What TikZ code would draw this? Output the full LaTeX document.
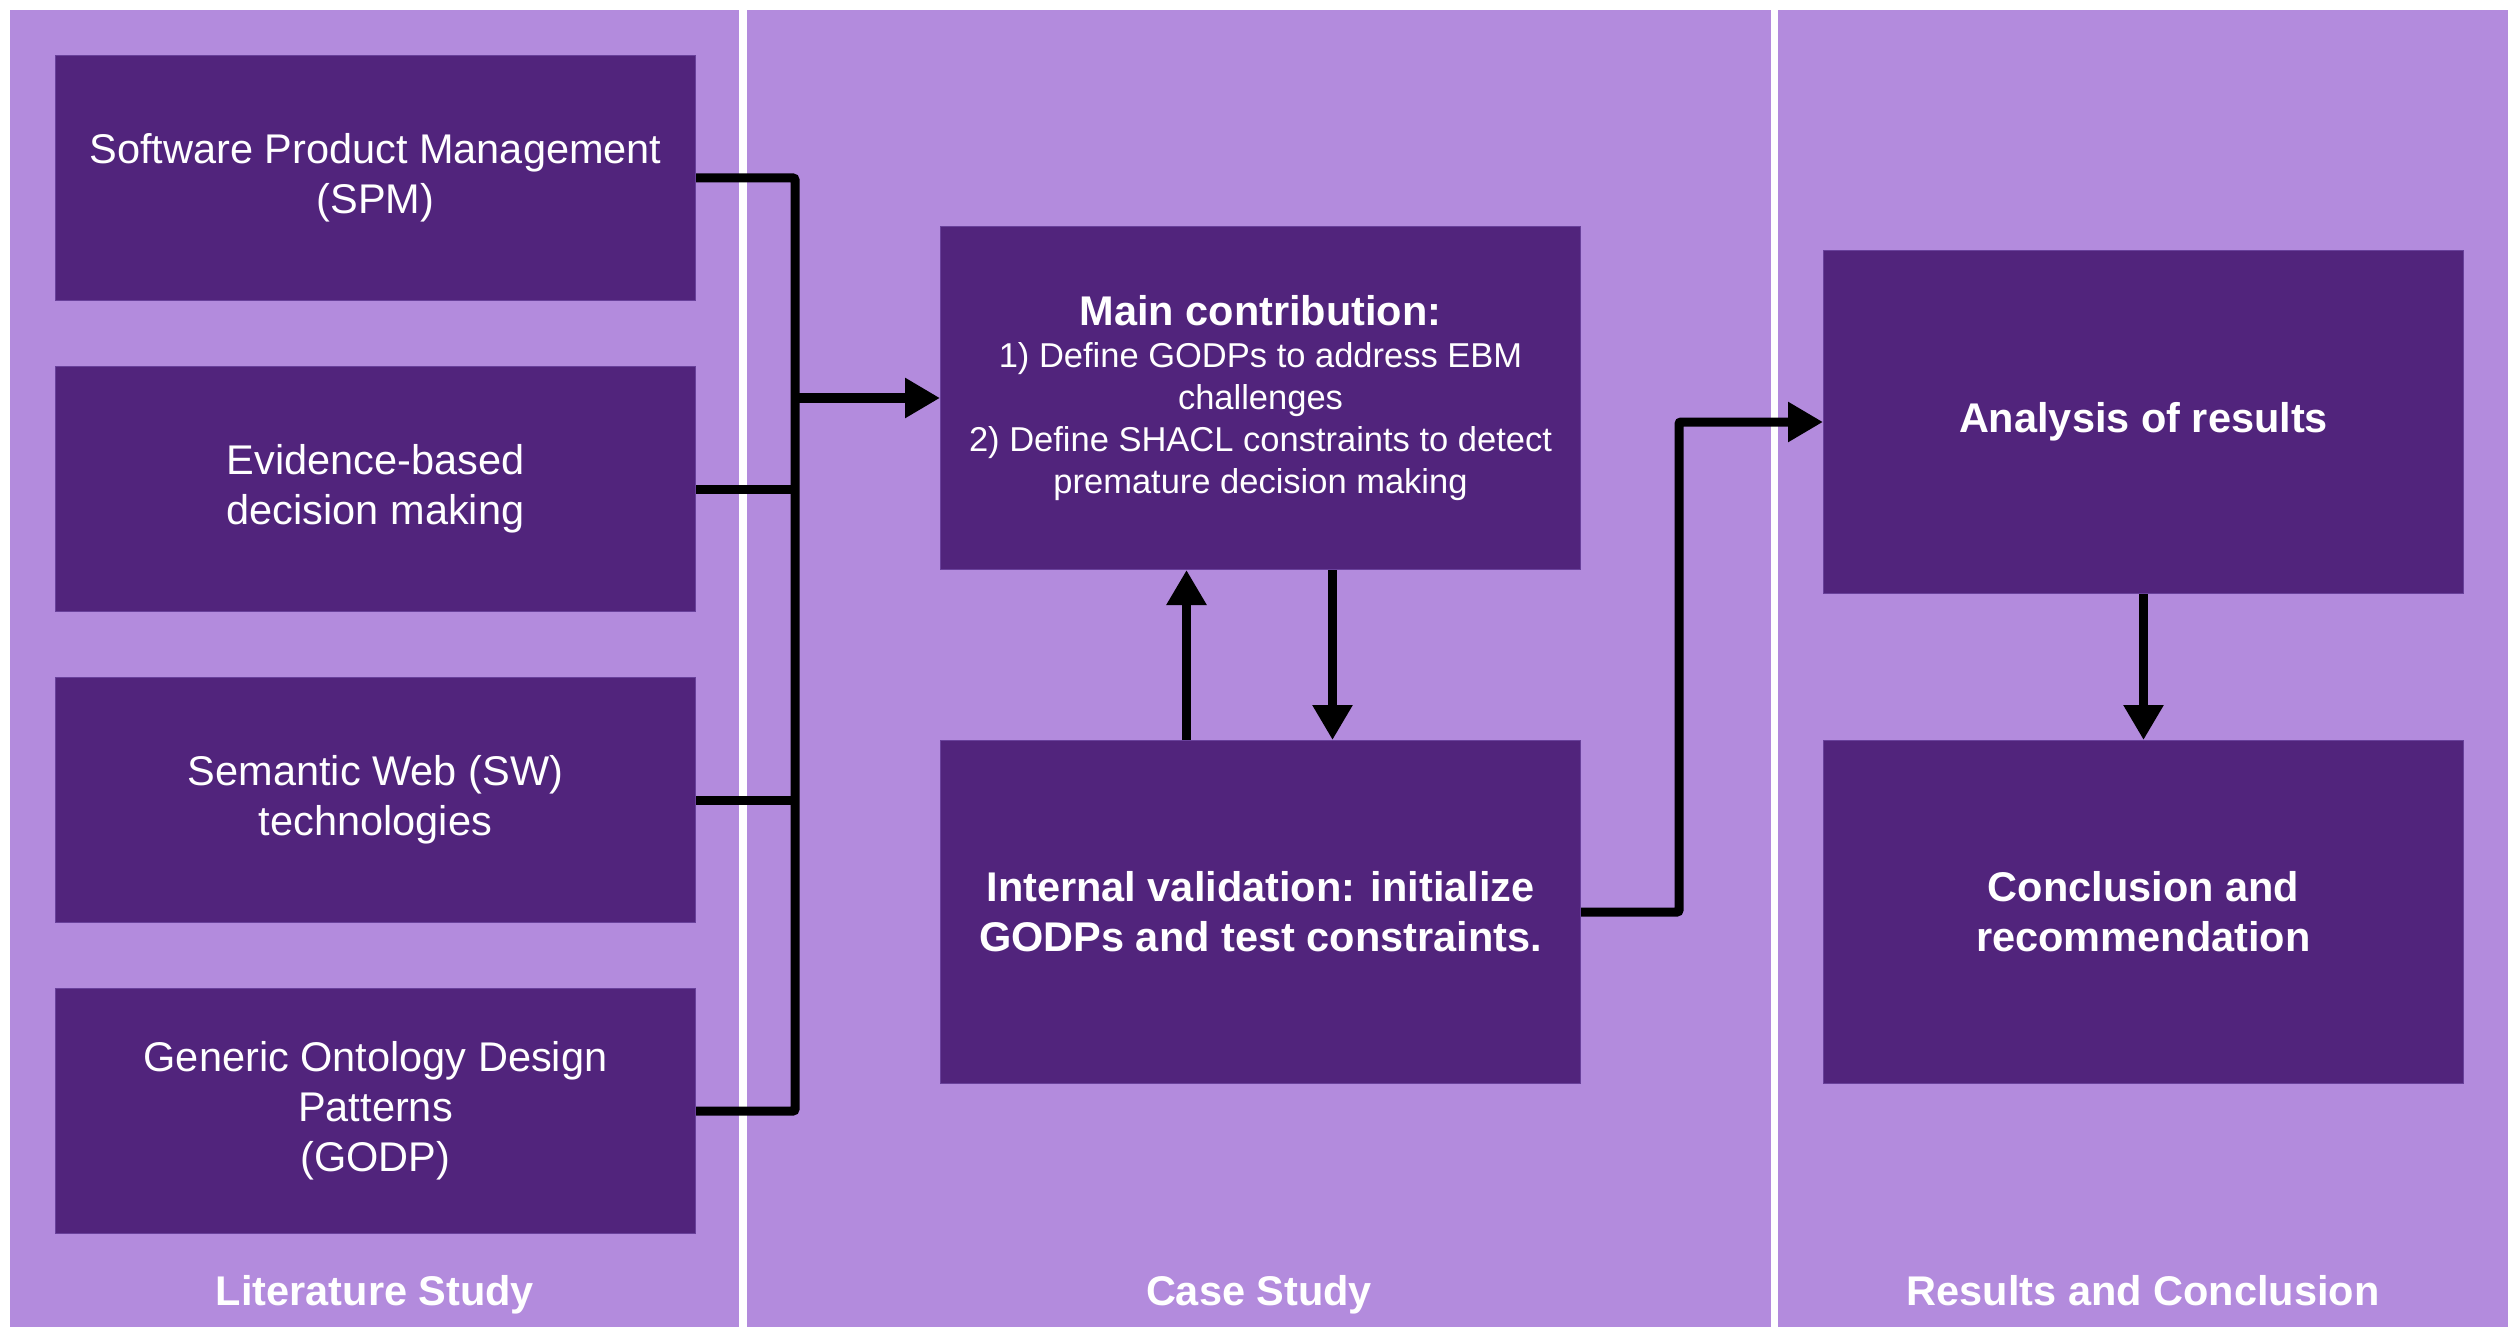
\documentclass[tikz,border=0pt]{standalone}
\usepackage{fontspec}
\setmainfont{Liberation Sans}
\usetikzlibrary{arrows.meta}
\definecolor{panelc}{RGB}{179,139,221}
\definecolor{boxc}{RGB}{81,36,124}
\definecolor{boxedge}{RGB}{105,65,155}
\begin{document}
\begin{tikzpicture}[x=1pt,y=-1pt,
  box/.style={fill=boxc, draw=boxedge, line width=1pt, text=white, align=center,
    inner sep=0pt, anchor=north west, minimum width=640pt},
  lbox/.style={box, minimum height=245pt, font=\fontsize{41.5}{50}\selectfont},
  mbox/.style={box, minimum height=343pt, font=\fontsize{41.5}{50}\selectfont\bfseries},
  conn/.style={line width=9pt, rounded corners=2pt},
  arr/.style={conn, -{Triangle[length=35pt,width=38pt]}},
  plabel/.style={text=white, font=\fontsize{41.5}{50}\selectfont\bfseries, anchor=base, inner sep=0pt}]
\useasboundingbox (0,0) rectangle (2519,1337);
\fill[white] (0,0) rectangle (2519,1337);
% panels
\fill[panelc] (10,10) rectangle (739,1327);
\fill[panelc] (747,10) rectangle (1771,1327);
\fill[panelc] (1778,10) rectangle (2508,1327);
\node[plabel] (lit) at (375,1305) {Literature Study};
\node[plabel] (case) at (1259,1305) {Case Study};
\node[plabel] (res) at (2143,1305) {Results and Conclusion};
% left boxes
\node[lbox] (spm) at (55,55) {Software Product Management\\(SPM)};
\node[lbox] (ebm) at (55,366) {Evidence-based\\decision making};
\node[lbox] (sw) at (55,677) {Semantic Web (SW)\\technologies};
\node[lbox] (godp) at (55,988) {Generic Ontology Design\\Patterns\\(GODP)};
% middle boxes
\node[box, minimum height=343pt, font=\fontsize{34.5}{42}\selectfont] (main) at (940,226)
  {{\fontsize{41.5}{50}\selectfont\bfseries Main contribution:}\\1) Define GODPs to address EBM\\challenges\\2) Define SHACL constraints to detect\\premature decision making};
\node[mbox] (val) at (940,740) {Internal validation: initialize\\GODPs and test constraints.};
% right boxes
\node[mbox] (ana) at (1823,250) {Analysis of results};
\node[mbox] (con) at (1823,740) {Conclusion and\\recommendation};
% connectors
\coordinate (bx) at (795,0);
\coordinate (tx) at (1679,0);
\draw[conn] (spm.east) -- (spm.east -| bx) -- (godp.east -| bx) -- (godp.east);
\draw[conn] (ebm.east) -- (ebm.east -| bx);
\draw[conn] (sw.east) -- (sw.east -| bx);
\draw[arr] (main.west -| bx) -- (main.west);
\draw[arr] ([xshift=-74pt]val.north) -- ([xshift=-74pt]main.south);
\draw[arr] ([xshift=72pt]main.south) -- ([xshift=72pt]val.north);
\draw[arr] (val.east) -- (val.east -| tx) -- (ana.west -| tx) -- (ana.west);
\draw[arr] (ana.south) -- (con.north);
\end{tikzpicture}
\end{document}
